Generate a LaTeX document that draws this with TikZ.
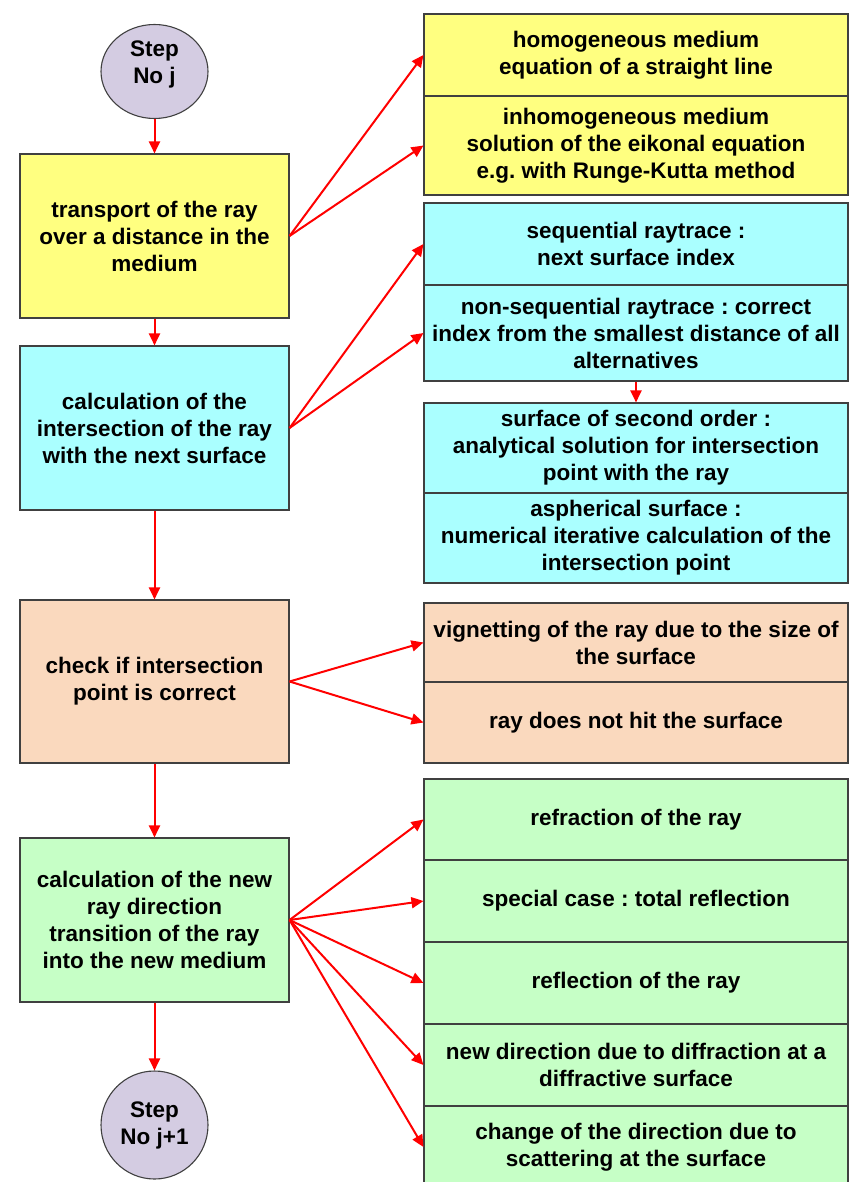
\documentclass[tikz,border=0pt]{standalone}
\usepackage{fontspec}
\setmainfont{Liberation Sans}
\usetikzlibrary{shapes.geometric,arrows.meta}
\definecolor{cYel}{HTML}{FFFF80}
\definecolor{cCya}{HTML}{AAFFFF}
\definecolor{cPea}{HTML}{FAD9BE}
\definecolor{cGrn}{HTML}{C6FFC6}
\definecolor{cLav}{HTML}{D4CCE2}
\definecolor{cEdge}{HTML}{404040}
\begin{document}
\frenchspacing
\begin{tikzpicture}[x=1pt,y=-1pt,
  txt/.style={font=\fontsize{22.5}{27}\selectfont\bfseries\frenchspacing,align=center},
  box/.style={txt,draw=cEdge,line width=1.1pt,inner sep=0pt},
  mainbox/.style={box,minimum width=269pt,minimum height=164pt},
  sidebox/.style={box,minimum width=424pt},
  stepnode/.style={ellipse,draw=cEdge,line width=1.1pt,fill=cLav,inner sep=0pt},
  flow/.style={draw=red,line width=2pt,-{Triangle[length=12pt,width=11pt]}}]
\useasboundingbox (0,0) rectangle (850,1182);

% step circles
\node[stepnode,minimum width=107pt,minimum height=94pt] (s1) at (154.5,71.5) {};
\node[txt,yshift=7pt] (s1t) at (s1.center) {Step\\No j};
\node[stepnode,minimum width=107pt,minimum height=108pt] (s2) at (154.5,1125) {};
\node[txt] (s2t) at (s2.center) {Step\\No j+1};

% main column
\node[mainbox,fill=cYel] (m1) at (154.5,236) {transport of the ray\\over a distance in the\\medium};
\node[mainbox,fill=cCya] (m2) at (154.5,428) {calculation of the\\intersection of the ray\\with the next surface};
\node[mainbox,fill=cPea,minimum height=163pt] (m3) at (154.5,681.5) {check if intersection\\point is correct};
\node[mainbox,fill=cGrn] (m4) at (154.5,920) {calculation of the new\\ray direction\\transition of the ray\\into the new medium};

% side column
\node[sidebox,fill=cYel,minimum height=82pt] (y1) at (636,55) {homogeneous medium\\equation of a straight line};
\node[sidebox,fill=cYel,minimum height=99pt] (y2) at (636,145.5) {inhomogeneous medium\\solution of the eikonal equation\\e.g. with Runge-Kutta method};

\node[sidebox,fill=cCya,minimum height=82pt] (c1) at (636,244) {sequential raytrace :\\next surface index};
\node[sidebox,fill=cCya,minimum height=96pt] (c2) at (636,333) {non-sequential raytrace : correct\\index from the smallest distance of all\\alternatives};
\node[sidebox,fill=cCya,minimum height=90pt] (c3) at (636,448) {surface of second order :\\analytical solution for intersection\\point with the ray};
\node[sidebox,fill=cCya,minimum height=90pt] (c4) at (636,538) {aspherical surface :\\numerical iterative calculation of the\\intersection point};

\node[sidebox,fill=cPea,minimum height=79pt] (p1) at (636,642.5) {vignetting of the ray due to the size of\\the surface};
\node[sidebox,fill=cPea,minimum height=81pt] (p2) at (636,722.5) {ray does not hit the surface};

\node[sidebox,fill=cGrn,minimum height=81pt] (g1) at (636,819.5) {refraction of the ray};
\node[sidebox,fill=cGrn,minimum height=82pt] (g2) at (636,901) {special case : total reflection};
\node[sidebox,fill=cGrn,minimum height=82pt] (g3) at (636,983) {reflection of the ray};
\node[sidebox,fill=cGrn,minimum height=82pt] (g4) at (636,1065) {new direction due to diffraction at a\\diffractive surface};
\node[sidebox,fill=cGrn,minimum height=82pt] (g5) at (636,1147) {change of the direction due to\\scattering at the surface};

% vertical flow
\draw[flow] (s1) -- (m1);
\draw[flow] (m1) -- (m2);
\draw[flow] (m2) -- (m3);
\draw[flow] (m3) -- (m4);
\draw[flow] (m4) -- (s2);
\draw[flow] (c2.south) -- (c3.north);

% branches
\draw[flow] (m1.east) -- (y1.west);
\draw[flow] (m1.east) -- (y2.west);
\draw[flow] (m2.east) -- (c1.west);
\draw[flow] (m2.east) -- (c2.west);
\draw[flow] (m3.east) -- (p1.west);
\draw[flow] (m3.east) -- (p2.west);
\foreach \g in {g1,g2,g3,g4,g5}
  \draw[flow] (m4.east) -- (\g.west);
\end{tikzpicture}
\end{document}
